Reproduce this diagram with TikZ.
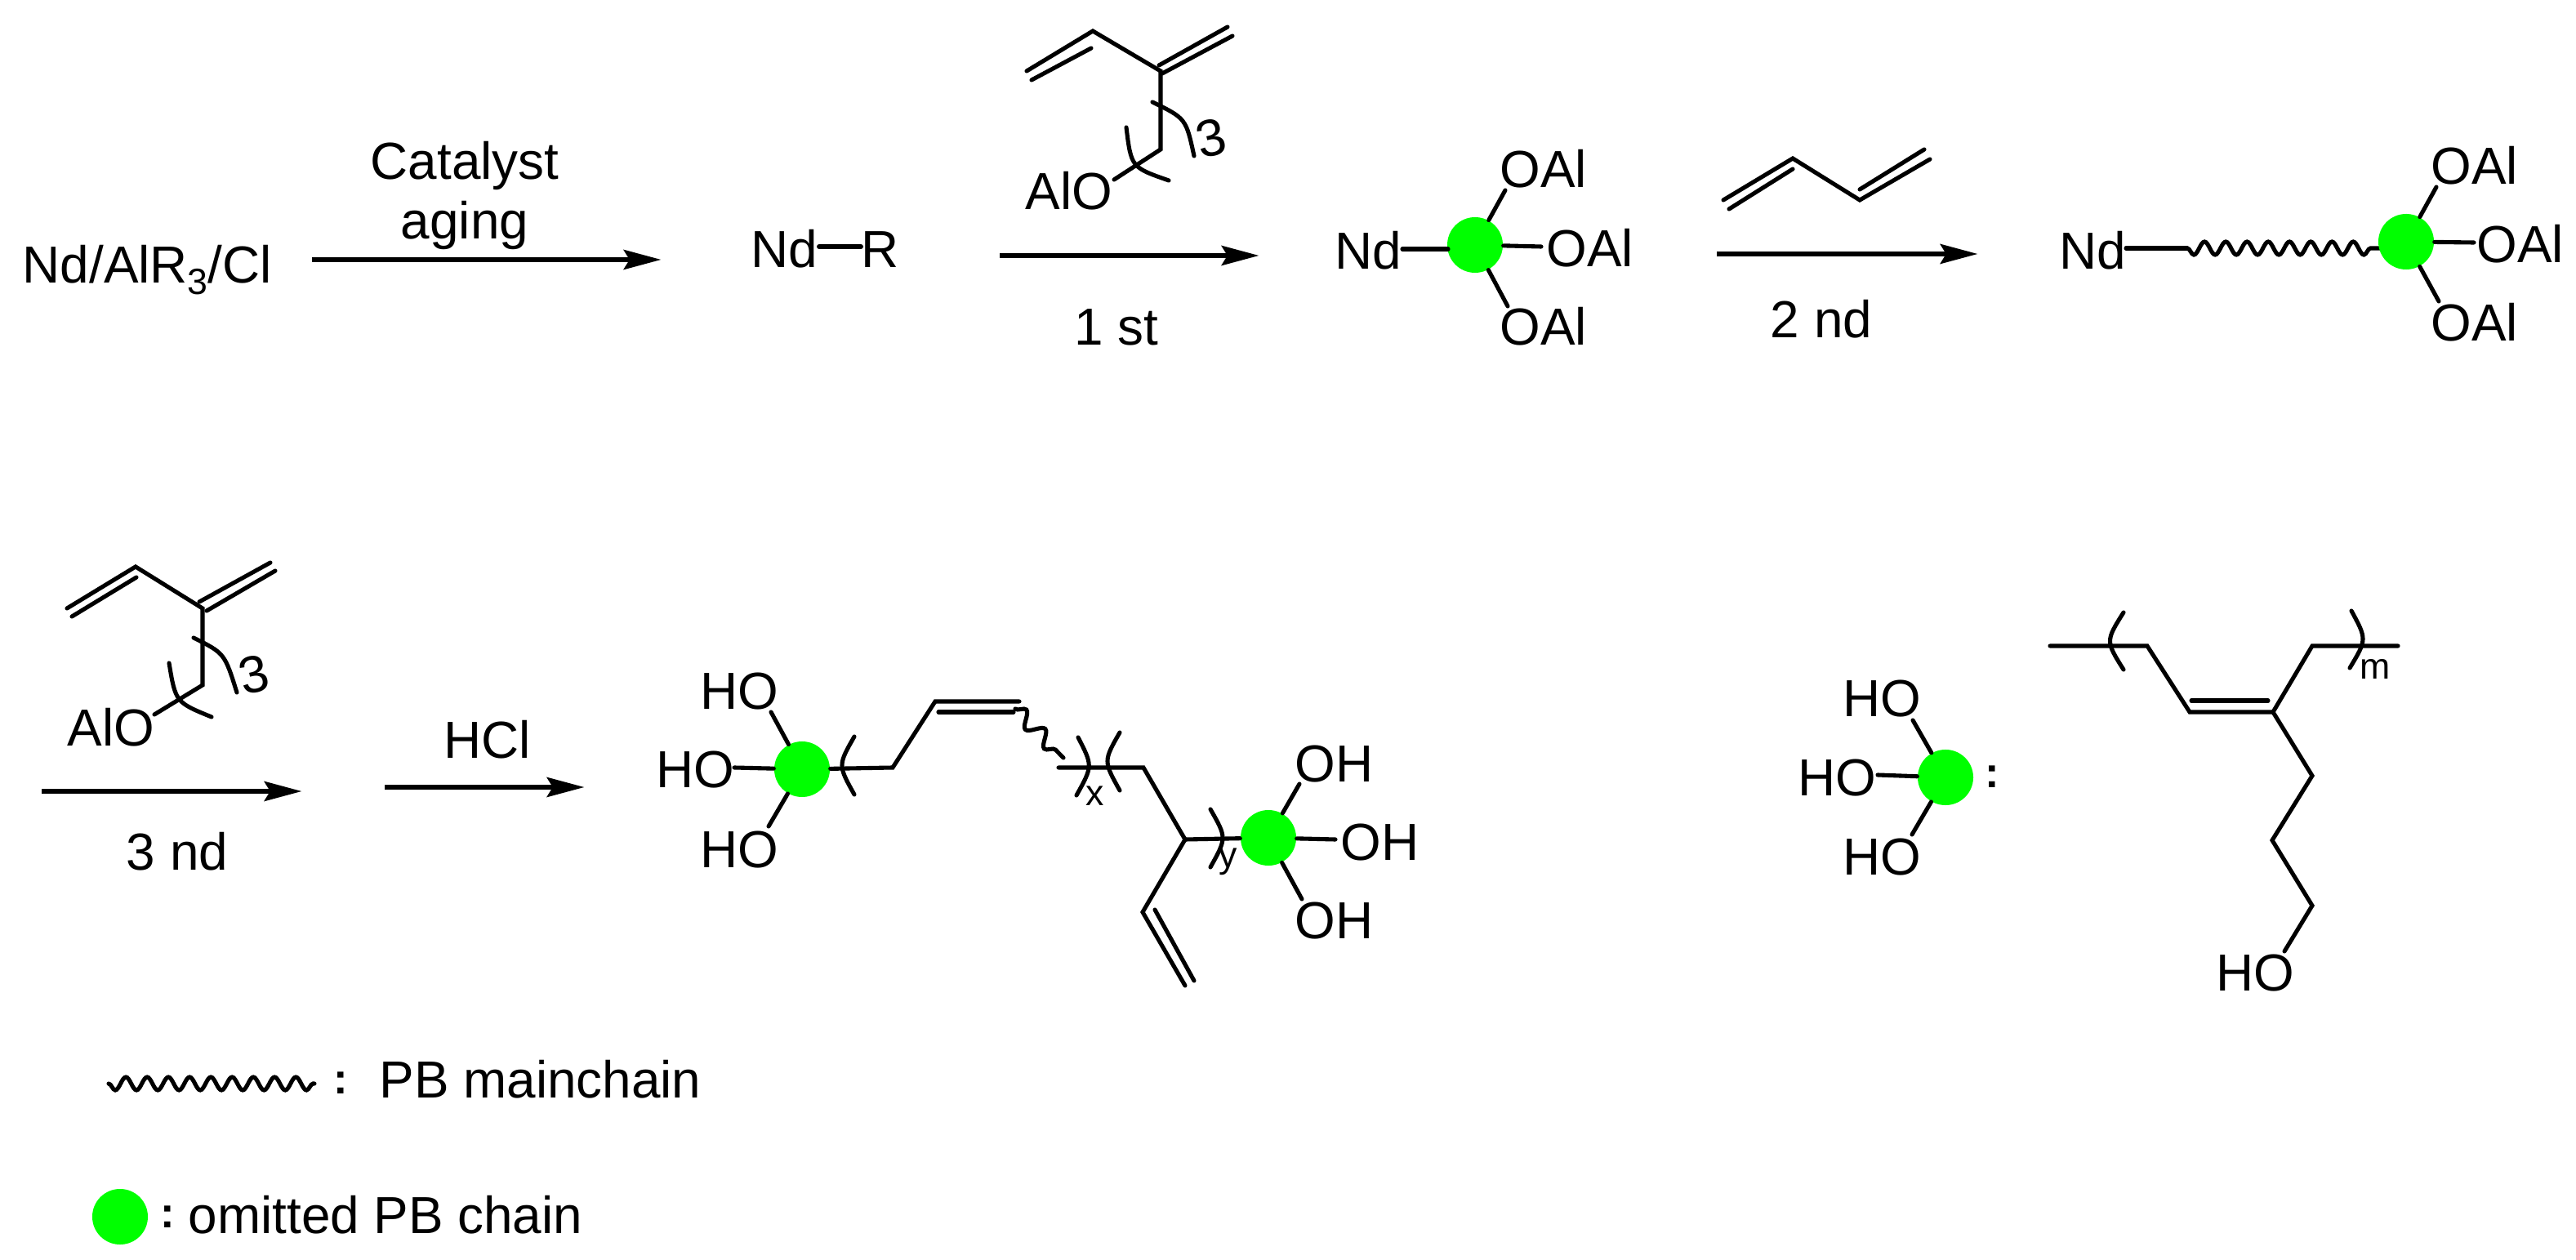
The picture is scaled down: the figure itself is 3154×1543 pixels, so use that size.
\documentclass[tikz,border=0pt]{standalone}
\usepackage{fontspec}
\setmainfont{Liberation Sans}
\usetikzlibrary{arrows.meta,decorations.pathmorphing}
\definecolor{chaingreen}{RGB}{0,255,0}
\tikzset{
	lbl/.style={anchor=base west, inner sep=0pt, font=\fontsize{18.15}{20}\selectfont},
	lblmid/.style={anchor=base, inner sep=0pt, font=\fontsize{18.15}{20}\selectfont},
	sublbl/.style={anchor=base west, inner sep=0pt, font=\fontsize{12.7}{14}\selectfont},
	colonlbl/.style={anchor=base, inner sep=0pt, font=\fontsize{15}{16}\selectfont\bfseries},
	bond/.style={line width=1.45pt, line cap=round},
	rxnarrow/.style={line width=1.7pt, shorten >=-1pt, -{Stealth[length=13pt,width=6.8pt,inset=2pt]}},
	chaindot/.style={circle, fill=chaingreen, inner sep=0pt, minimum size=0.68cm},
	wavy/.style={bond, decorate, decoration={snake, mirror, segment length=0.26cm, amplitude=0.08cm}},
}
\begin{document}
\begin{tikzpicture}[x=0.01cm, y=-0.01cm]
	\useasboundingbox (0,0) rectangle (3154,1543);
	% first row, catalyst
	\node [lbl] (feed) at (27,347) {Nd/AlR\raisebox{-3.7pt}{\fontsize{12.7}{14}\selectfont 3}/Cl};
	\coordinate (a1s) at (382,318);
	\coordinate (a1e) at (806,318);
	\draw [rxnarrow] (a1s) -- (a1e);
	\node [lblmid] (cat) at (569,220) {Catalyst};
	\node [lblmid] (aging) at (569,293) {aging};
	\node [lbl] (ndr) at (919,328) {Nd};
	\node [lbl] (rr) at (1054,328) {R};
	\coordinate (ndrb) at (1003,302);
	\coordinate (rrb) at (1054,302);
	\draw [bond, line width=1.7pt] (ndrb) -- (rrb);
	% first monomer
	\coordinate (ma) at (1257,87);
	\coordinate (mb) at (1338,38);
	\coordinate (mc) at (1421,87);
	\coordinate (md) at (1421,183);
	\coordinate (me) at (1364,220);
	\draw [bond] (ma) -- (mb) -- (mc) -- (md) -- (me);
	\coordinate (ma2) at (1263,98);
	\coordinate (mb2) at (1336,59);
	\draw [bond] (ma2) -- (mb2);
	\coordinate (mc1) at (1419,80);
	\coordinate (mc2) at (1423,90);
	\coordinate (mf1) at (1503,33);
	\coordinate (mf2) at (1509,44);
	\draw [bond] (mc1) -- (mf1);
	\draw [bond] (mc2) -- (mf2);
	\draw [bond] (1411,125) .. controls (1452,145) .. (1462,191);
	\draw [bond] (1379,156) .. controls (1385,205) .. (1431,221);
	\node [lbl] (mal) at (1255,257) {AlO};
	\node [lbl, anchor=center, rotate=13] (m3) at (1483,169) {3};
	\coordinate (a2s) at (1224,313);
	\coordinate (a2e) at (1538,313);
	\draw [rxnarrow] (a2s) -- (a2e);
	\node [lblmid] (st) at (1367,423) {1 st};
	% first product
	\node [lbl] (nda) at (1634,330) {Nd};
	\node [chaindot] (dota) at (1806,300) {};
	\coordinate (ndab) at (1717,305);
	\coordinate (dotaa) at (1773,305);
	\draw [bond] (ndab) -- (dotaa);
	\coordinate (oa1) at (1843,233);
	\coordinate (oa2) at (1887,302);
	\coordinate (oa3) at (1846,375);
	\draw [bond] (dota) -- (oa1);
	\draw [bond] (dota) -- (oa2);
	\draw [bond] (dota) -- (oa3);
	\node [lbl] (oat) at (1836,230) {OAl};
	\node [lbl] (oam) at (1893,327) {OAl};
	\node [lbl] (oab) at (1836,423) {OAl};
	% butadiene
	\coordinate (ba) at (2110,245);
	\coordinate (bb) at (2195,194);
	\coordinate (bc) at (2277,245);
	\coordinate (bd) at (2363,195);
	\draw [bond] (ba) -- (bb) -- (bc) -- (bd);
	\coordinate (ba2) at (2117,256);
	\coordinate (bb2) at (2195,207);
	\coordinate (bc2) at (2277,232);
	\coordinate (bd2) at (2356,183);
	\draw [bond] (ba2) -- (bb2);
	\draw [bond] (bc2) -- (bd2);
	\coordinate (a3s) at (2102,311);
	\coordinate (a3e) at (2418,311);
	\draw [rxnarrow] (a3s) -- (a3e);
	\node [lblmid] (nd2) at (2230,414) {2 nd};
	% second product
	\node [lbl] (ndb) at (2521,330) {Nd};
	\coordinate (ndbb) at (2603,304);
	\coordinate (wva) at (2678,304);
	\coordinate (wvb) at (2915,304);
	\draw [bond] (ndbb) -- (wva);
	\draw [wavy] (wva) -- (wvb);
	\node [chaindot] (dotb) at (2946,296) {};
	\coordinate (ob1) at (2983,229);
	\coordinate (ob2) at (3029,297);
	\coordinate (ob3) at (2986,369);
	\draw [bond] (dotb) -- (ob1);
	\draw [bond] (dotb) -- (ob2);
	\draw [bond] (dotb) -- (ob3);
	\node [lbl] (obt) at (2976,226) {OAl};
	\node [lbl] (obm) at (3032,322) {OAl};
	\node [lbl] (obb) at (2976,418) {OAl};
	% second row, second monomer
	\coordinate (na) at (82,745);
	\coordinate (nb) at (166,694);
	\coordinate (nc) at (248,745);
	\coordinate (nd) at (248,839);
	\coordinate (ne) at (189,875);
	\draw [bond] (na) -- (nb) -- (nc) -- (nd) -- (ne);
	\coordinate (na2) at (88,755);
	\coordinate (nb2) at (167,707);
	\draw [bond] (na2) -- (nb2);
	\coordinate (nc1) at (244,737);
	\coordinate (nc2) at (253,748);
	\coordinate (nf1) at (331,689);
	\coordinate (nf2) at (337,699);
	\draw [bond] (nc1) -- (nf1);
	\draw [bond] (nc2) -- (nf2);
	\draw [bond] (237,781) .. controls (275,800) .. (290,848);
	\draw [bond] (207,812) .. controls (215,860) .. (259,878);
	\node [lbl] (nal) at (82,913) {AlO};
	\node [lbl, anchor=center, rotate=13] (n3) at (311,826) {3};
	\coordinate (a4s) at (51,969);
	\coordinate (a4e) at (366,969);
	\draw [rxnarrow] (a4s) -- (a4e);
	\node [lblmid] (nd3) at (217,1065) {3 nd};
	\node [lblmid] (hcl) at (597,928) {HCl};
	\coordinate (a5s) at (471,964);
	\coordinate (a5e) at (712,964);
	\draw [rxnarrow] (a5s) -- (a5e);
	% final polymer
	\node [chaindot] (dotc) at (982,942) {};
	\coordinate (hc1) at (944,872);
	\coordinate (hc2) at (899,940);
	\coordinate (hc3) at (941,1012);
	\draw [bond] (dotc) -- (hc1);
	\draw [bond] (dotc) -- (hc2);
	\draw [bond] (dotc) -- (hc3);
	\node [lbl] (hct) at (857,868) {HO};
	\node [lbl] (hcm) at (803,964) {HO};
	\node [lbl] (hcb) at (857,1062) {HO};
	\coordinate (pa) at (1093,940);
	\coordinate (pb) at (1145,859);
	\coordinate (pc) at (1248,859);
	\draw [bond] (dotc) -- (pa) -- (pb) -- (pc);
	\coordinate (pb2) at (1149,872);
	\coordinate (pc2) at (1241,872);
	\draw [bond] (pb2) -- (pc2);
	\coordinate (pd) at (1243,868);
	\coordinate (pe) at (1302,928);
	\draw [wavy, decoration={mirror=false, segment length=0.33cm, amplitude=0.09cm}] (pd) -- (pe);
	\coordinate (qa) at (1296,940);
	\coordinate (qb) at (1400,940);
	\coordinate (qc) at (1451,1028);
	\coordinate (qd) at (1399,1117);
	\coordinate (qe) at (1451,1207);
	\draw [bond] (qa) -- (qb) -- (qc) -- (qd) -- (qe);
	\coordinate (qd2) at (1414,1114);
	\coordinate (qe2) at (1462,1201);
	\draw [bond] (qd2) -- (qe2);
	\node [chaindot] (dotd) at (1553,1026) {};
	\draw [bond] (qc) -- (dotd);
	\draw [bond] (1046,902) .. controls (1026,937) .. (1046,973);
	\draw [bond] (1320,903) .. controls (1338,938) .. (1318,974);
	\draw [bond] (1371,897) .. controls (1351,932) .. (1371,968);
	\draw [bond] (1482,991) .. controls (1502,1026) .. (1482,1062);
	\node [sublbl] (xx) at (1329,986) {x};
	\node [sublbl] (yy) at (1492,1062) {y};
	\coordinate (hd1) at (1591,960);
	\coordinate (hd2) at (1635,1028);
	\coordinate (hd3) at (1594,1101);
	\draw [bond] (dotd) -- (hd1);
	\draw [bond] (dotd) -- (hd2);
	\draw [bond] (dotd) -- (hd3);
	\node [lbl] (hdt) at (1585,957) {OH};
	\node [lbl] (hdm) at (1641,1053) {OH};
	\node [lbl] (hdb) at (1585,1149) {OH};
	% repeat unit of the omitted chain
	\node [chaindot] (dote) at (2382,952) {};
	\coordinate (he1) at (2342,882);
	\coordinate (he2) at (2299,949);
	\coordinate (he3) at (2341,1022);
	\draw [bond] (dote) -- (he1);
	\draw [bond] (dote) -- (he2);
	\draw [bond] (dote) -- (he3);
	\node [lbl] (het) at (2256,877) {HO};
	\node [lbl] (hem) at (2201,974) {HO};
	\node [lbl] (heb) at (2256,1071) {HO};
	\node [colonlbl] (cola) at (2439,964) {:};
	\coordinate (ra) at (2510,791);
	\coordinate (rb) at (2629,791);
	\coordinate (rc) at (2681,872);
	\coordinate (rd) at (2783,872);
	\coordinate (re) at (2831,791);
	\coordinate (rf) at (2936,791);
	\draw [bond] (ra) -- (rb) -- (rc) -- (rd) -- (re) -- (rf);
	\coordinate (rc2) at (2683,858);
	\coordinate (rd2) at (2777,858);
	\draw [bond] (rc2) -- (rd2);
	\coordinate (rg) at (2831,950);
	\coordinate (rh) at (2782,1029);
	\coordinate (ri) at (2831,1109);
	\coordinate (rj) at (2797,1165);
	\draw [bond] (rd) -- (rg) -- (rh) -- (ri) -- (rj);
	\node [lbl] (rho) at (2713,1213) {HO};
	\draw [bond] (2600,750) .. controls (2578,785) .. (2600,820);
	\draw [bond] (2879,748) .. controls (2898,783) .. (2877,818);
	\node [sublbl] (mm) at (2889,831) {m};
	% legend
	\coordinate (lwa) at (133,1327);
	\coordinate (lwb) at (385,1327);
	\draw [wavy] (lwa) -- (lwb);
	\node [colonlbl] (colb) at (417,1339) {:};
	\node [lbl] (lgb) at (464,1344) {PB mainchain};
	\node [chaindot] (dotf) at (147,1490) {};
	\node [colonlbl] (colc) at (205,1503) {:};
	\node [lbl] (lgc) at (230,1510) {omitted PB chain};
\end{tikzpicture}
\end{document}
